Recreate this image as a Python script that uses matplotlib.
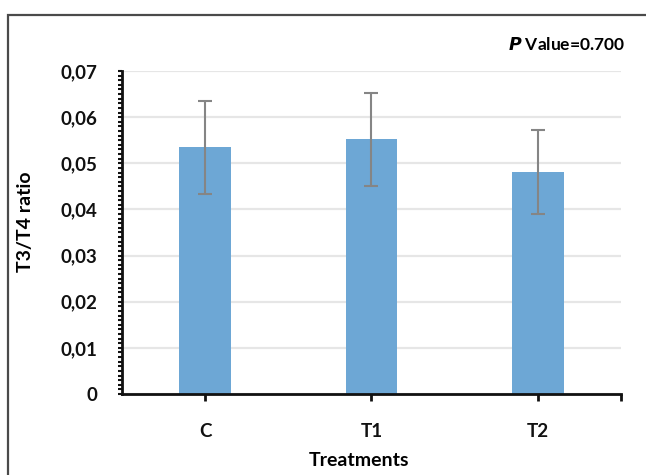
import matplotlib
matplotlib.use("Agg")
import matplotlib.pyplot as plt
import matplotlib.patches as mpatches
from matplotlib.ticker import FuncFormatter, MultipleLocator

# ── Data ──────────────────────────────────────────────────────────────────────
treatments = ["C", "T1", "T2"]
ratio_mean = [0.0535, 0.0552, 0.0481]
ratio_sd = [0.0101, 0.0101, 0.0091]
p_value = "0.700"

BAR_COLOR = "#6da7d5"
ERR_COLOR = "#858585"
GRID_COLOR = "#e6e6e6"

plt.rcParams["font.family"] = ["Lato", "DejaVu Sans"]
plt.rcParams["font.weight"] = "bold"

W, H = 646, 475
fig = plt.figure(figsize=(W / 100, H / 100), dpi=100)
ax = fig.add_axes([122 / W, (H - 394) / H, (621 - 122) / W, (394 - 71) / H])

# frame around the whole chart area (runs off the right/bottom edge)
fig.patches.append(mpatches.Rectangle(
    (7.5 / W, -0.1), 1.0, (H - 14.5) / H + 0.1,
    transform=fig.transFigure, fill=False, edgecolor="#4a4a4a",
    linewidth=1.6, zorder=0))

x = range(len(treatments))
ax.bar(x, ratio_mean, width=0.31, color=BAR_COLOR, zorder=2)
ax.errorbar(x, ratio_mean, yerr=ratio_sd, fmt="none", ecolor=ERR_COLOR,
            elinewidth=1.5, capsize=5, capthick=1.5, zorder=3)

ax.set_xlim(-0.5, 2.5)
ax.set_ylim(0, 0.07)
ax.yaxis.set_major_locator(MultipleLocator(0.01))
ax.yaxis.set_minor_locator(MultipleLocator(0.001))
ax.yaxis.set_major_formatter(FuncFormatter(
    lambda v, _: "0" if abs(v) < 1e-9 else f"{v:.2f}".replace(".", ",")))
ax.grid(axis="y", color=GRID_COLOR, linewidth=1.6, zorder=0)
ax.set_axisbelow(True)

ax.set_xticks([0, 1, 2, 2.5])
ax.set_xticklabels(treatments + [""])

for side in ("top", "right"):
    ax.spines[side].set_visible(False)
for side in ("left", "bottom"):
    ax.spines[side].set_linewidth(2)
    ax.spines[side].set_color("#111111")

ax.tick_params(axis="y", which="both", direction="out", length=3, width=1.5,
               labelsize=13.5, pad=15, colors="#111111")
ax.tick_params(axis="x", direction="out", length=5, width=2,
               labelsize=13.5, pad=16, colors="#111111")

ax.set_xlabel("Treatments", fontsize=14, fontweight="bold", va="center")
ax.xaxis.set_label_coords((359 - 122) / (621 - 122), -(460 - 394) / (394 - 71))
ax.set_ylabel("T3/T4 ratio", fontsize=14, fontweight="bold", va="center")
ax.yaxis.set_label_coords(-(122 - 26) / (621 - 122), (394 - 222) / (394 - 71))

fig.text(625 / W, 1 - 45 / H, r"$\bfit{P}$ Value=" + p_value,
         ha="right", va="center", fontsize=12.5, fontweight="bold")

fig.savefig("out.png", dpi=100, facecolor="white")
